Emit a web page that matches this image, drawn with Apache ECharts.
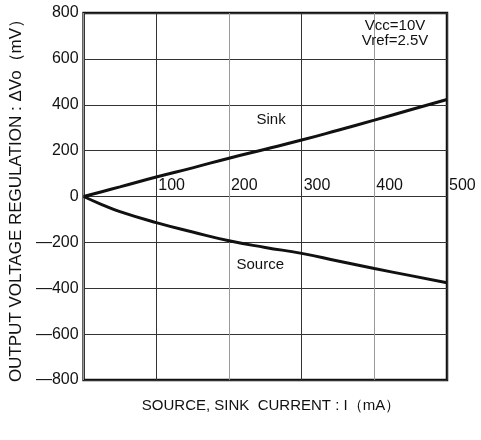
<!DOCTYPE html>
<html>
<head>
<meta charset="utf-8">
<script src="https://cdn.jsdelivr.net/npm/echarts@6/dist/echarts.min.js"></script>
<style>
  html, body { margin: 0; padding: 0; background: #fff; }
  #chart { width: 481px; height: 440px; }
</style>
</head>
<body>
<div id="chart"></div>
<script>
// current (mA) and output voltage regulation (mV)
var current = [0, 25, 50, 100, 150, 200, 250, 300, 350, 400, 450, 500];
var sink = [0, 21, 42, 85, 125, 167, 206, 246, 289, 333, 378, 423];
var source = [0, -35, -66, -114, -155, -193, -222, -248, -281, -314, -345, -376];
var xTicks = [0, 100, 200, 300, 400, 500];
var yTicks = [-800, -600, -400, -200, 0, 200, 400, 600, 800];

var FONT = '"Liberation Sans", Arial, sans-serif';
var PLOT_H = 440 - 13 - 60;

function pairs(xs, ys) {
    return xs.map(function (x, i) { return [x, ys[i]]; });
}

var dom = document.getElementById('chart');
var myChart = echarts.init(dom);

var option = {
    animation: false,
    backgroundColor: '#fff',
    grid: {
        left: 79, right: 34, top: 13, bottom: 60,
        show: true, borderColor: '#111', borderWidth: 2.5,
        containLabel: false
    },
    title: [
        {
            text: 'SOURCE, SINK  CURRENT : I（mA）',
            left: 266, top: 393, textAlign: 'center',
            textStyle: { fontFamily: FONT, fontSize: 15, fontWeight: 'normal', color: '#111' }
        },
        {
            text: 'Vcc=10V\nVref=2.5V',
            left: 390, top: 13, textAlign: 'center',
            textStyle: { fontFamily: FONT, fontSize: 15, fontWeight: 'normal', color: '#111', lineHeight: 15 }
        }
    ],
    xAxis: {
        type: 'value',
        min: xTicks[0], max: xTicks[xTicks.length - 1], interval: 100,
        // labels sit on the 0 mV line, above it
        offset: -PLOT_H / 2,
        axisLine: { show: false },
        axisTick: { show: false },
        axisLabel: {
            inside: true, margin: 3, align: 'left', padding: [0, 0, 0, 2],
            showMinLabel: false,
            fontFamily: FONT, fontSize: 16, color: '#111'
        },
        splitLine: { show: true, lineStyle: { color: ['#999', '#333'], width: 1 } }
    },
    yAxis: {
        type: 'value',
        min: yTicks[0], max: yTicks[yTicks.length - 1], interval: 200,
        name: 'OUTPUT VOLTAGE REGULATION : ΔVo（mV）',
        nameLocation: 'middle', nameGap: 58, nameRotate: 90,
        nameTextStyle: { fontFamily: FONT, fontSize: 17, color: '#111' },
        axisLine: { show: false, onZero: false },
        axisTick: { show: false },
        axisLabel: {
            margin: 5, fontFamily: FONT, fontSize: 16, color: '#111',
            formatter: function (v) { return v < 0 ? '\u2014' + Math.abs(v) : String(v); }
        },
        splitLine: { show: true, lineStyle: { color: '#333', width: 1 } }
    },
    series: [
        {
            name: 'Sink', type: 'line', smooth: true, symbol: 'none',
            data: pairs(current, sink),
            lineStyle: { color: '#111', width: 3 },
            markPoint: {
                symbol: 'circle', symbolSize: 0,
                label: { show: true, formatter: 'Sink', fontFamily: FONT, fontSize: 15, color: '#111' },
                data: [{ coord: [258, 336] }]
            }
        },
        {
            name: 'Source', type: 'line', smooth: true, symbol: 'none',
            data: pairs(current, source),
            lineStyle: { color: '#111', width: 3 },
            markPoint: {
                symbol: 'circle', symbolSize: 0,
                label: { show: true, formatter: 'Source', fontFamily: FONT, fontSize: 15, color: '#111' },
                data: [{ coord: [243, -299] }]
            }
        }
    ]
};

myChart.setOption(option, true);
</script>
</body>
</html>
